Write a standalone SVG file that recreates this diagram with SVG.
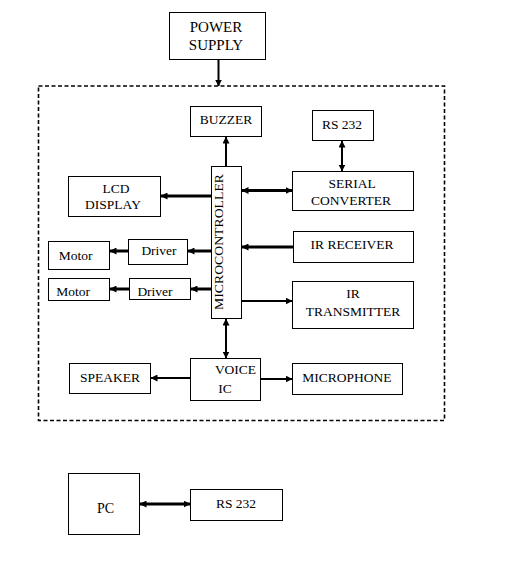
<svg xmlns="http://www.w3.org/2000/svg" width="512" height="576" viewBox="0 0 512 576">
<style>
rect.b{fill:#fff;stroke:#000;stroke-width:1}
text{font-family:"Liberation Serif","Times New Roman",serif;font-size:13.5px;fill:#000;text-anchor:middle}
.c line{stroke:#000}
.t{stroke-width:3}
.n{stroke-width:2}
</style>
<defs>
<marker id="ah" markerUnits="userSpaceOnUse" viewBox="0 0 7 7" refX="6.5" refY="3.5" markerWidth="7" markerHeight="7" orient="auto-start-reverse">
<path d="M0,0 L7,3.5 L0,7 z" fill="#000"/>
</marker>
</defs>
<rect width="512" height="576" fill="#fff"/>
<rect id="boundary" x="38.5" y="86" width="406" height="334.5" fill="none" stroke="#000" stroke-width="1.6" stroke-dasharray="4 2.5"/>
<g id="power"><rect class="b" x="169.5" y="12.5" width="96" height="47"/><text x="216" y="32" style="font-size:15px">POWER</text><text x="216" y="50" style="font-size:15px">SUPPLY</text></g>
<g id="buzzer"><rect class="b" x="190.5" y="106.5" width="71" height="30"/><text x="226" y="123.5">BUZZER</text></g>
<g id="rs232a"><rect class="b" x="312.5" y="110.5" width="61" height="30"/><text x="342" y="129">RS 232</text></g>
<g id="micro"><rect class="b" x="211.5" y="166.5" width="30" height="152"/><text transform="translate(223,242) rotate(-90)" textLength="136" lengthAdjust="spacingAndGlyphs">MICROCONTROLLER</text></g>
<g id="serial"><rect class="b" x="292.5" y="171.5" width="121" height="39"/><text x="352" y="188">SERIAL</text><text x="351" y="204.5">CONVERTER</text></g>
<g id="lcd"><rect class="b" x="68.5" y="176.5" width="92" height="40"/><text x="116" y="192.5">LCD</text><text x="113" y="208.5">DISPLAY</text></g>
<g id="irrx"><rect class="b" x="293.5" y="231.5" width="120" height="31"/><text x="352" y="249.3">IR RECEIVER</text></g>
<g id="driver1"><rect class="b" x="128.5" y="239.5" width="59" height="25"/><text x="159" y="255">Driver</text></g>
<g id="motor1"><rect class="b" x="48.5" y="241.5" width="61" height="28"/><text x="75.5" y="259.5">Motor</text></g>
<g id="driver2"><rect class="b" x="129.5" y="278.5" width="61" height="21"/><text x="155" y="296">Driver</text></g>
<g id="motor2"><rect class="b" x="48.5" y="278.5" width="61" height="22"/><text x="73" y="296">Motor</text></g>
<g id="irtx"><rect class="b" x="292.5" y="281.5" width="121" height="47"/><text x="353" y="298.3">IR</text><text x="353" y="316">TRANSMITTER</text></g>
<g id="voice"><rect class="b" x="190.5" y="358.5" width="70" height="42"/><text x="235.5" y="374">VOICE</text><text x="225" y="393">IC</text></g>
<g id="speaker"><rect class="b" x="69.5" y="363.5" width="81" height="30"/><text x="110" y="381.7">SPEAKER</text></g>
<g id="microphone"><rect class="b" x="292.5" y="363.5" width="110" height="31"/><text x="347" y="381.7">MICROPHONE</text></g>
<g id="pc"><rect class="b" x="68.5" y="473.5" width="71" height="61"/><text x="105.5" y="513" style="font-size:14px">PC</text></g>
<g id="rs232b"><rect class="b" x="190.5" y="489.5" width="92" height="31"/><text x="236" y="507.7">RS 232</text></g>
<g id="connectors" class="c">
<line class="n" x1="218.5" y1="60" x2="218.5" y2="86" marker-end="url(#ah)"/>
<line class="n" x1="226" y1="166" x2="226" y2="137" marker-end="url(#ah)"/>
<line class="n" x1="342" y1="141" x2="342" y2="171" marker-start="url(#ah)" marker-end="url(#ah)"/>
<line class="t" x1="211" y1="196" x2="161" y2="196" marker-end="url(#ah)"/>
<line class="t" x1="242" y1="190.5" x2="292" y2="190.5" marker-start="url(#ah)" marker-end="url(#ah)"/>
<line class="t" x1="293" y1="247" x2="242" y2="247" marker-end="url(#ah)"/>
<line class="t" x1="211" y1="251" x2="188" y2="251" marker-end="url(#ah)"/>
<line class="t" x1="128" y1="251" x2="110" y2="251" marker-end="url(#ah)"/>
<line class="t" x1="211" y1="289" x2="191" y2="289" marker-end="url(#ah)"/>
<line class="t" x1="129" y1="289" x2="110" y2="289" marker-end="url(#ah)"/>
<line class="n" x1="242" y1="301" x2="292" y2="301" marker-end="url(#ah)"/>
<line class="n" x1="226" y1="319" x2="226" y2="358" marker-start="url(#ah)" marker-end="url(#ah)"/>
<line class="n" x1="190" y1="378" x2="151" y2="378" marker-end="url(#ah)"/>
<line class="n" x1="261" y1="379" x2="292" y2="379" marker-end="url(#ah)"/>
<line class="t" x1="140" y1="504" x2="190" y2="504" stroke-width="2.5" marker-start="url(#ah)" marker-end="url(#ah)"/>
</g>
</svg>
